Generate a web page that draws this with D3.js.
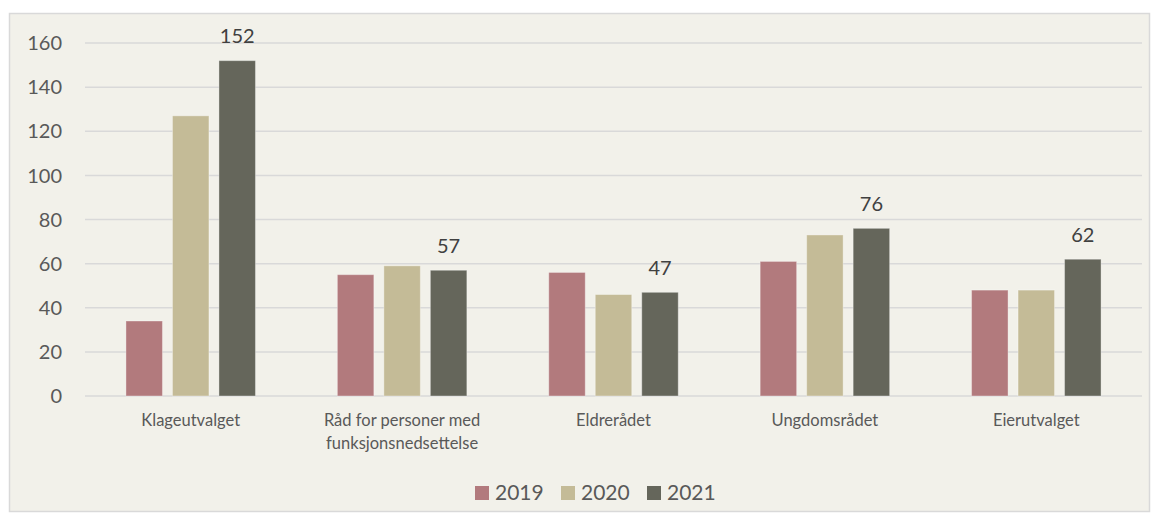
<!DOCTYPE html>
<html><head><meta charset="utf-8">
<script src="https://cdn.jsdelivr.net/npm/d3@7"></script>
<style>body{margin:0;background:#fff}</style>
</head><body>
<svg id="c" width="1159" height="525"></svg>
<script>
const categories = [["Klageutvalget"], ["Råd for personer med", "funksjonsnedsettelse"], ["Eldrerådet"], ["Ungdomsrådet"], ["Eierutvalget"]];
const seriesNames = ["2019", "2020", "2021"];
const values2019 = [34, 55, 56, 61, 48];
const values2020 = [127, 59, 46, 73, 48];
const values2021 = [152, 57, 47, 76, 62];
const yTicks = [0, 20, 40, 60, 80, 100, 120, 140, 160];
const colors = ["#b27a7d", "#c4bb97", "#65665b"];

const series = [values2019, values2020, values2021];
const svg = d3.select("#c");
const font = "Lato, 'Open Sans', sans-serif";

svg.append("rect").attr("x", 9.5).attr("y", 13.5).attr("width", 1140).attr("height", 498)
  .attr("fill", "#f2f1ea").attr("stroke", "#d9d9d9").attr("stroke-width", 1.5);

const x0 = d3.scaleBand().domain(d3.range(categories.length)).range([85, 1142]).paddingInner(0).paddingOuter(0);
const y = d3.scaleLinear().domain([0, 160]).range([396, 43]);
const bw = 36.5, gap = 10;

const gy = svg.append("g");
yTicks.forEach(t => {
  gy.append("line").attr("x1", 85).attr("x2", 1142).attr("y1", y(t)).attr("y2", y(t))
    .attr("stroke", "#d9d9d9").attr("stroke-width", 1.5);
  gy.append("text").attr("x", 62).attr("y", y(t)).attr("dy", "0.36em").attr("text-anchor", "end")
    .attr("font-family", font).attr("font-size", 20).attr("fill", "#595959").text(t);
});

series.forEach((vals, si) => {
  vals.forEach((v, ci) => {
    const cx = x0(ci) + x0.bandwidth() / 2 + (si - 1) * (bw + gap);
    svg.append("rect").attr("x", cx - bw / 2).attr("y", y(v)).attr("width", bw).attr("height", y(0) - y(v))
      .attr("fill", colors[si]).attr("stroke", "rgba(255,255,255,0.35)").attr("stroke-width", 1);
    if (si === 2) {
      svg.append("text").attr("x", cx).attr("y", y(v) - 17.5).attr("text-anchor", "middle")
        .attr("font-family", font).attr("font-size", 20).attr("fill", "#404040").text(v);
    }
  });
});

categories.forEach((lines, ci) => {
  const cx = x0(ci) + x0.bandwidth() / 2;
  lines.forEach((ln, li) => {
    svg.append("text").attr("x", cx).attr("y", 426 + li * 22.5).attr("text-anchor", "middle")
      .attr("font-family", font).attr("font-size", 16.5).attr("fill", "#595959").text(ln);
  });
});

const legX = [475, 561, 647];
seriesNames.forEach((n, i) => {
  svg.append("rect").attr("x", legX[i]).attr("y", 486).attr("width", 14).attr("height", 14).attr("fill", colors[i]);
  svg.append("text").attr("x", legX[i] + 20).attr("y", 500).attr("font-family", font).attr("font-size", 21)
    .attr("fill", "#595959").text(n);
});
</script>
</body></html>
